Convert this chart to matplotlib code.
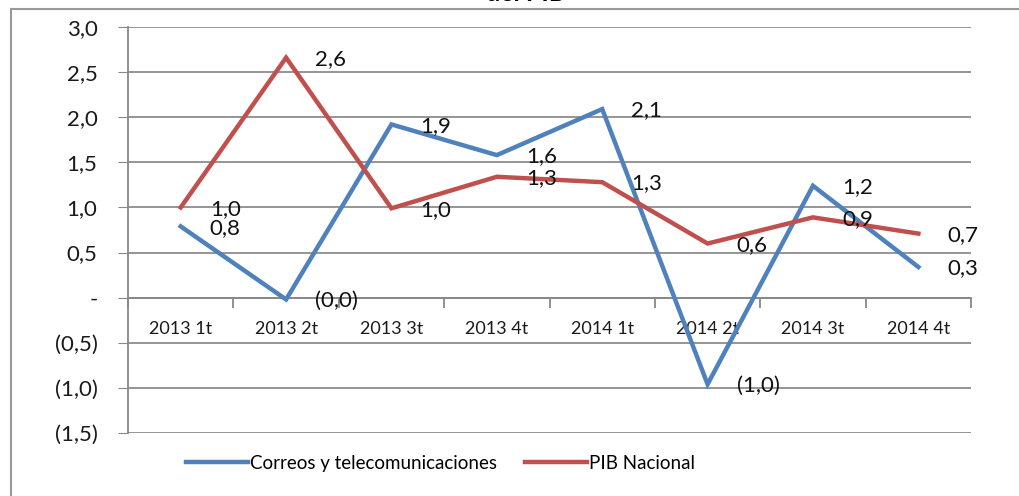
import matplotlib.pyplot as plt
import numpy as np
from matplotlib.lines import Line2D
from matplotlib.ticker import FuncFormatter

# datos
trimestres = ["2013 1t", "2013 2t", "2013 3t", "2013 4t",
              "2014 1t", "2014 2t", "2014 3t", "2014 4t"]
correos = [0.79, -0.02, 1.92, 1.58, 2.09, -0.96, 1.24, 0.34]
pib = [1.0, 2.66, 0.99, 1.34, 1.28, 0.6, 0.89, 0.71]
etiq_correos = ["0,8", "(0,0)", "1,9", "1,6", "2,1", "(1,0)", "1,2", "0,3"]
etiq_pib = ["1,0", "2,6", "1,0", "1,3", "1,3", "0,6", "0,9", "0,7"]

azul = '#4F81BD'
rojo = '#C0504D'
plt.rcParams['font.family'] = ['Lato', 'DejaVu Sans']

fig = plt.figure(figsize=(10.2, 4.96), dpi=100)
ax = fig.add_axes([0.1255, 0.127, 0.8265, 0.8186])

x = np.arange(len(trimestres))
ax.plot(x, correos, color=azul, lw=3.2, solid_joinstyle='miter', label='Correos y telecomunicaciones', zorder=3)
ax.plot(x, pib, color=rojo, lw=3.2, solid_joinstyle='miter', label='PIB Nacional', zorder=3)

for i in x:
    ax.annotate(etiq_correos[i], (i, correos[i]), xytext=(21, -1), textcoords='offset points',
                va='center', ha='left', fontsize=16, color='#111111', zorder=4)
    ax.annotate(etiq_pib[i], (i, pib[i]), xytext=(21, -1), textcoords='offset points',
                va='center', ha='left', fontsize=16, color='#111111', zorder=4)

ax.set_xlim(-0.5, 7.5)
ax.set_ylim(-1.5, 3.0)
ax.set_yticks(np.arange(-1.5, 3.01, 0.5))

def fmt(v, pos):
    if abs(v) < 1e-9:
        return '-'
    s = ('%.1f' % abs(v)).replace('.', ',')
    return '(' + s + ')' if v < 0 else s

ax.yaxis.set_major_formatter(FuncFormatter(fmt))
ax.tick_params(axis='y', direction='out', length=7, color='#888888', labelsize=16,
               pad=15, labelcolor='#1a1a1a')
ax.grid(axis='y', color='#8c8c8c', lw=1.3)
ax.set_axisbelow(True)

for s in ['top', 'right']:
    ax.spines[s].set_visible(False)
ax.spines['left'].set_color('#888888')
ax.spines['left'].set_linewidth(1.3)
ax.spines['bottom'].set_position(('data', 0))
ax.spines['bottom'].set_color('#888888')
ax.spines['bottom'].set_linewidth(1.3)

ax.set_xticks(x)
ax.set_xticklabels(trimestres, fontsize=13, color='#1a1a1a')
ax.set_xticks(np.arange(-0.5, 8, 1), minor=True)
ax.tick_params(axis='x', which='major', length=0, pad=17)
ax.tick_params(axis='x', which='minor', direction='out', length=7, color='#888888', width=1.3)

fig.legend(loc='lower center', bbox_to_anchor=(0.432, 0.015), ncol=2, frameon=False,
           fontsize=13.5, handlelength=3.3, handletextpad=0.1, columnspacing=1.5)

fig.text(0.515, 1 - 5 / 496, 'del PIB', ha='center', va='bottom', fontsize=18, fontweight='bold')

fig.add_artist(Line2D([11 / 1020, 11 / 1020], [0, 1 - 9 / 496], color='#999999', lw=1.5))
fig.add_artist(Line2D([11 / 1020, 1], [1 - 9 / 496, 1 - 9 / 496], color='#999999', lw=1.5))

fig.savefig('out.png', dpi=100)
